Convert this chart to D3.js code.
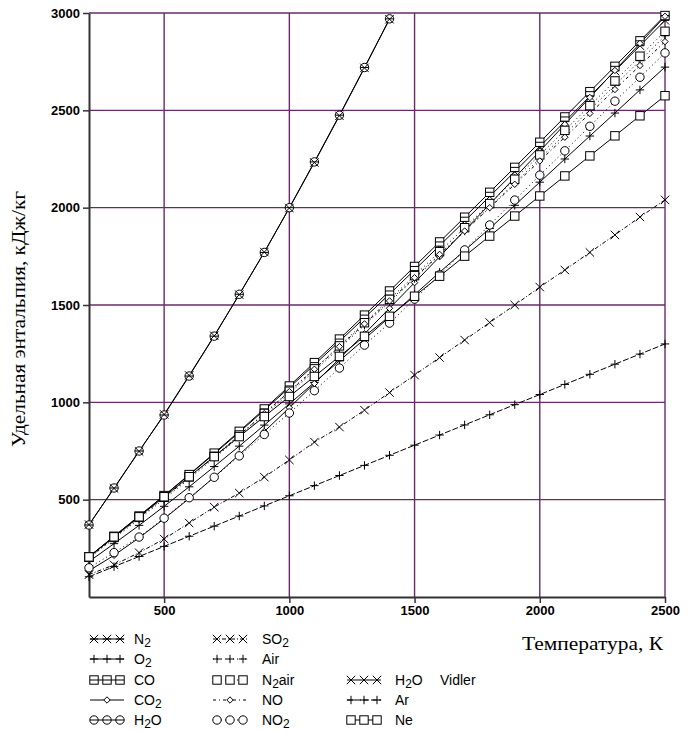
<!DOCTYPE html>
<html>
<head>
<meta charset="utf-8">
<script src="https://cdn.jsdelivr.net/npm/d3@7/dist/d3.min.js"></script>
<style>
  body { margin: 0; background: #fff; }
  svg text { fill: #000; }
</style>
</head>
<body>
<svg id="chart" width="688" height="733"></svg>
<script>
// temperatures, K
const temps = [200, 300, 400, 500, 600, 700, 800, 900, 1000, 1100, 1200, 1300,
  1400, 1500, 1600, 1700, 1800, 1900, 2000, 2100, 2200, 2300, 2400, 2500];

// specific enthalpy, kJ/kg
const n2 = [207, 311, 416, 520, 627, 735, 846, 960, 1076, 1193, 1313, 1434, 1556, 1680, 1805, 1931, 2058, 2185, 2314, 2442, 2572, 2702, 2832, 2962];
const o2 = [182, 274, 368, 466, 566, 670, 775, 883, 992, 1102, 1213, 1325, 1438, 1553, 1668, 1780, 1893, 2012, 2131, 2250, 2368, 2486, 2605, 2722];
const co = [207, 312, 416, 521, 629, 739, 851, 966, 1084, 1204, 1325, 1448, 1572, 1698, 1824, 1951, 2079, 2207, 2336, 2466, 2596, 2726, 2857, 2987];
const co2 = [135, 214, 304, 402, 506, 616, 731, 850, 972, 1097, 1224, 1352, 1483, 1615, 1748, 1883, 2018, 2154, 2290, 2428, 2566, 2705, 2844, 2983];
const h2o = [370, 560, 750, 935, 1135, 1340, 1555, 1770, 2000, 2235, 2475, 2720, 2970];
const so2 = [115, 165, 228, 298, 380, 462, 534, 616, 704, 796, 873, 960, 1050, 1140, 1230, 1320, 1410, 1500, 1592, 1680, 1770, 1860, 1952, 2040];
const air = [200, 300, 401, 503, 607, 713, 822, 933, 1046, 1161, 1278, 1396, 1515, 1636, 1757, 1880, 2003, 2127, 2252, 2377, 2503, 2629, 2755, 2883];
const n2air = [204, 306, 409, 512, 617, 723, 832, 943, 1057, 1172, 1290, 1409, 1529, 1651, 1774, 1897, 2021, 2146, 2271, 2397, 2524, 2651, 2778, 2906];
const no = [200, 306, 408, 510, 614, 721, 830, 942, 1055, 1170, 1286, 1403, 1521, 1640, 1760, 1880, 2000, 2120, 2240, 2362, 2484, 2607, 2730, 2853];
const no2 = [150, 228, 308, 405, 510, 615, 725, 835, 945, 1060, 1176, 1294, 1407, 1530, 1655, 1783, 1911, 2039, 2167, 2292, 2418, 2547, 2670, 2795];
const h2oVidler = [372, 558, 748, 938, 1138, 1342, 1553, 1772, 1998, 2232, 2472, 2718, 2968];
const ar = [104, 156, 208, 260, 312, 364, 416, 468, 520, 572, 624, 676, 728, 780, 832, 884, 936, 988, 1040, 1092, 1144, 1196, 1248, 1300];
const ne = [206, 309, 412, 515, 618, 721, 824, 927, 1030, 1133, 1236, 1339, 1442, 1545, 1648, 1751, 1854, 1957, 2060, 2163, 2266, 2369, 2472, 2575];

const xTicks = [500, 1000, 1500, 2000, 2500];
const yTicks = [500, 1000, 1500, 2000, 2500, 3000];

// label parts: [main, subscript, rest, suffix]
const series = [
  { label: ['N', '2', ''], values: n2, marker: 'xbar', dash: null, col: 0, row: 0 },
  { label: ['O', '2', ''], values: o2, marker: 'plus', dash: null, col: 0, row: 1 },
  { label: ['CO', '', ''], values: co, marker: 'sqline', dash: null, col: 0, row: 2 },
  { label: ['CO', '2', ''], values: co2, marker: 'diamond', dash: null, col: 0, row: 3 },
  { label: ['H', '2', 'O'], values: h2o, marker: 'circline', dash: null, col: 0, row: 4 },
  { label: ['SO', '2', ''], values: so2, marker: 'x', dash: '4,2,1,2', col: 1, row: 0 },
  { label: ['Air', '', ''], values: air, marker: 'plus', dash: '1,3', col: 1, row: 1 },
  { label: ['N', '2', 'air'], values: n2air, marker: 'square', dash: '1,3', col: 1, row: 2 },
  { label: ['NO', '', ''], values: no, marker: 'diamond', dash: '3,3,1,3', col: 1, row: 3 },
  { label: ['NO', '2', ''], values: no2, marker: 'circle', dash: '1,3', col: 1, row: 4 },
  { label: ['H', '2', 'O', 'Vidler'], values: h2oVidler, marker: 'x', dash: null, col: 2, row: 2 },
  { label: ['Ar', '', ''], values: ar, marker: 'plus', dash: '6,2', col: 2, row: 3 },
  { label: ['Ne', '', ''], values: ne, marker: 'square', dash: null, col: 2, row: 4 }
];

const svg = d3.select('#chart');
const mLeft = 89, mRight = 665, mTop = 13, mBottom = 597;
const gridColor = '#6a2a6a';

const x = d3.scaleLinear().domain([200, 2500]).range([mLeft, mRight]);
const y = d3.scaleLinear().domain([0, 3000]).range([mBottom, mTop]);

// grid
svg.append('g').selectAll('line')
  .data(xTicks)
  .join('line')
  .attr('x1', d => x(d)).attr('x2', d => x(d))
  .attr('y1', mTop).attr('y2', mBottom)
  .attr('stroke', gridColor).attr('stroke-width', 1.4);
svg.append('g').selectAll('line')
  .data(yTicks)
  .join('line')
  .attr('x1', mLeft).attr('x2', mRight)
  .attr('y1', d => y(d)).attr('y2', d => y(d))
  .attr('stroke', gridColor).attr('stroke-width', 1.4);

// axes
const xAxis = d3.axisBottom(x).tickValues(xTicks).tickSize(6).tickSizeOuter(0).tickFormat(d3.format('d'));
const yAxis = d3.axisLeft(y).tickValues(yTicks).tickSize(6).tickSizeOuter(0).tickFormat(d3.format('d'));

const gx = svg.append('g').attr('transform', `translate(0,${mBottom})`).call(xAxis);
const gy = svg.append('g').attr('transform', `translate(${mLeft},0)`).call(yAxis);
[gx, gy].forEach(g => {
  g.select('.domain').attr('stroke', '#333').attr('stroke-width', 2);
  g.selectAll('.tick line').attr('stroke', '#333').attr('stroke-width', 1.5);
  g.selectAll('.tick text')
    .attr('font-family', 'Liberation Sans, Arial, sans-serif')
    .attr('font-size', 13).attr('font-weight', 'bold').attr('fill', '#000');
});
gy.selectAll('.tick text').attr('x', -9);

// axis titles
svg.append('text')
  .attr('x', 522).attr('y', 650)
  .attr('font-family', 'Liberation Serif, Times New Roman, serif')
  .attr('font-size', 18)
  .attr('textLength', 141).attr('lengthAdjust', 'spacingAndGlyphs')
  .text('Температура, К');
svg.append('text')
  .attr('transform', 'translate(25,447) rotate(-90)')
  .attr('font-family', 'Liberation Serif, Times New Roman, serif')
  .attr('font-size', 18)
  .attr('textLength', 256).attr('lengthAdjust', 'spacingAndGlyphs')
  .text('Удельная энтальпия, кДж/кг');

// markers
function drawMarker(g, type, cx, cy) {
  const s = 4.2;
  const add = (tag) => g.append(tag).attr('stroke', '#000').attr('stroke-width', 1).attr('fill', 'none');
  if (type === 'x' || type === 'xbar') {
    add('path').attr('d', `M${cx - s},${cy - s}L${cx + s},${cy + s}M${cx - s},${cy + s}L${cx + s},${cy - s}`);
    if (type === 'xbar') add('path').attr('d', `M${cx - s},${cy}L${cx + s},${cy}`);
  } else if (type === 'plus') {
    add('path').attr('d', `M${cx - s},${cy}L${cx + s},${cy}M${cx},${cy - s}L${cx},${cy + s}`);
  } else if (type === 'square' || type === 'sqline') {
    add('rect').attr('x', cx - s).attr('y', cy - s).attr('width', 2 * s).attr('height', 2 * s).attr('fill', '#fff');
    if (type === 'sqline') add('path').attr('d', `M${cx - s},${cy}L${cx + s},${cy}`);
  } else if (type === 'circle' || type === 'circline') {
    add('circle').attr('cx', cx).attr('cy', cy).attr('r', s).attr('fill', '#fff');
    if (type === 'circline') add('path').attr('d', `M${cx - s},${cy}L${cx + s},${cy}`);
  } else if (type === 'diamond') {
    const d = 3.2;
    add('path').attr('d', `M${cx},${cy - d}L${cx + d},${cy}L${cx},${cy + d}L${cx - d},${cy}Z`).attr('fill', '#fff');
  }
}

svg.append('clipPath').attr('id', 'plotclip')
  .append('rect').attr('x', mLeft - 6).attr('y', mTop - 6)
  .attr('width', mRight - mLeft + 12).attr('height', mBottom - mTop + 6);

const plot = svg.append('g').attr('clip-path', 'url(#plotclip)');
const line = d3.line().x(d => x(d[0])).y(d => y(d[1]));

series.forEach(s => {
  const pts = s.values.map((v, i) => [temps[i], v]);
  plot.append('path')
    .datum(pts)
    .attr('d', line)
    .attr('fill', 'none')
    .attr('stroke', '#000')
    .attr('stroke-width', 1)
    .attr('stroke-dasharray', s.dash);
});
series.forEach(s => {
  const g = plot.append('g');
  s.values.forEach((v, i) => drawMarker(g, s.marker, x(temps[i]), y(v)));
});

// legend
const colX = [90, 213, 347];
const textX = [134, 262, 395];
const rowY = [639, 659, 680, 700, 720];
const leg = svg.append('g');
series.forEach(s => {
  const lx = colX[s.col], ly = rowY[s.row];
  leg.append('line')
    .attr('x1', lx).attr('x2', lx + 34).attr('y1', ly).attr('y2', ly)
    .attr('stroke', '#000').attr('stroke-width', 1)
    .attr('stroke-dasharray', s.dash);
  const mg = leg.append('g');
  if (s.marker === 'diamond') {
    drawMarker(mg, s.marker, lx + 17, ly);
  } else {
    [lx + 4, lx + 17, lx + 30].forEach(mx => drawMarker(mg, s.marker, mx, ly));
  }
  const t = leg.append('text')
    .attr('x', textX[s.col]).attr('y', ly + 5)
    .attr('font-family', 'Liberation Sans, Arial, sans-serif')
    .attr('font-size', 14);
  t.append('tspan').text(s.label[0]);
  if (s.label[1]) t.append('tspan').attr('dy', 3).attr('font-size', 12).text(s.label[1]);
  if (s.label[2]) t.append('tspan').attr('dy', s.label[1] ? -3 : 0).text(s.label[2]);
  if (s.label[3]) t.append('tspan').attr('x', 440).text(s.label[3]);
});
</script>
</body>
</html>
